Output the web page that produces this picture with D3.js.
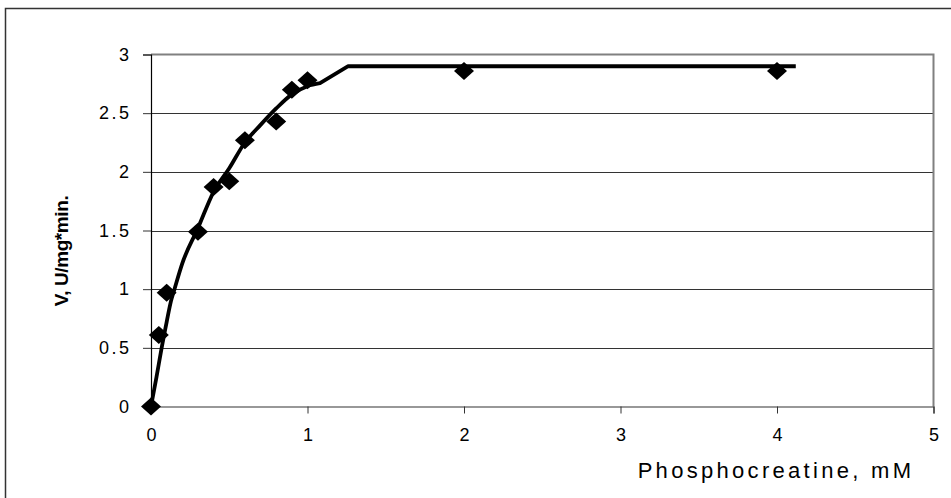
<!DOCTYPE html>
<html><head><meta charset="utf-8">
<script src="https://cdn.jsdelivr.net/npm/d3@7"></script>
<style>html,body{margin:0;padding:0;background:#fff;overflow:hidden}</style>
</head><body>
<svg id="chart" width="951" height="498"></svg>
<script>
// Measured points
const pointX = [0, 0.05, 0.1, 0.3, 0.4, 0.5, 0.6, 0.8, 0.9, 1.0, 2, 4];
const pointY = [0, 0.61, 0.97, 1.49, 1.87, 1.92, 2.27, 2.43, 2.70, 2.78, 2.86, 2.86];
// Fitted curve (smooth part, then straight plateau part)
const curveX = [0, 0.035, 0.068, 0.1, 0.128, 0.15, 0.2, 0.3, 0.4, 0.5, 0.6, 0.7, 0.8, 0.9, 1.0, 1.08];
const curveY = [0, 0.25, 0.5, 0.72, 0.9, 1.0, 1.22, 1.52, 1.83, 2.03, 2.25, 2.4, 2.54, 2.66, 2.73, 2.755];
const plateauX = [1.08, 1.26, 4.12];
const plateauY = [2.755, 2.9, 2.9];
const xTicks = [0, 1, 2, 3, 4, 5];
const yTicks = [0, 0.5, 1, 1.5, 2, 2.5, 3];
const xTitle = "Phosphocreatine, mM";
const yTitle = "V, U/mg*min.";

const svg = d3.select("#chart");
const FONT = "Liberation Sans, Arial, sans-serif";
const L = 151, R = 933.5, T = 54.5, B = 406.5;
const x = d3.scaleLinear().domain([0, 5]).range([L, R]);
const y = d3.scaleLinear().domain([0, 3]).range([B, T]);

// outer frame
svg.append("rect").attr("x", 5.5).attr("y", 8.5).attr("width", 960).attr("height", 500)
  .attr("fill", "none").attr("stroke", "#333").attr("stroke-width", 1.5);

// gridlines
svg.append("g").selectAll("line").data(yTicks.filter(d => d > 0 && d < 3)).join("line")
  .attr("x1", L).attr("x2", R).attr("y1", d => Math.round(y(d)) + 0.5).attr("y2", d => Math.round(y(d)) + 0.5)
  .attr("stroke", "#333").attr("stroke-width", 1);
// plot border (top & right) grey
svg.append("path").attr("d", `M${L},${T} H${R} V${B}`)
  .attr("fill", "none").attr("stroke", "#808080").attr("stroke-width", 2);

// axes
const xAxis = d3.axisBottom(x).tickValues(xTicks).tickSize(7).tickPadding(15).tickFormat(d3.format("d"));
const gx = svg.append("g").attr("transform", `translate(0,${B})`).call(xAxis);
gx.select(".domain").attr("stroke", "#333").attr("stroke-width", 1.2);
gx.selectAll(".tick line").attr("stroke", "#333");
gx.selectAll(".tick text").attr("font-family", FONT).attr("font-size", 18).attr("fill", "#000");

const yAxis = d3.axisLeft(y).tickValues(yTicks).tickSize(8).tickPadding(14).tickFormat(d => String(d));
const gy = svg.append("g").attr("transform", `translate(${L},0)`).call(yAxis);
gy.select(".domain").attr("stroke", "#000").attr("stroke-width", 1.2);
gy.selectAll(".tick line").attr("stroke", "#333");
gy.selectAll(".tick text").attr("font-family", FONT).attr("font-size", 18)
  .attr("letter-spacing", "2.5px").attr("dx", "2.5px").attr("fill", "#000");

// curve
const lineData = curveX.map((d, i) => [d, curveY[i]]);
const plateauData = plateauX.map((d, i) => [d, plateauY[i]]);
const smooth = d3.line().x(d => x(d[0])).y(d => y(d[1])).curve(d3.curveMonotoneX);
const straight = d3.line().x(d => x(d[0])).y(d => y(d[1]));
svg.append("path").attr("d", smooth(lineData) + "L" + straight(plateauData).slice(1))
  .attr("fill", "none").attr("stroke", "#000").attr("stroke-width", 3.8).attr("stroke-linejoin", "round");

// diamonds
const pts = pointX.map((d, i) => [d, pointY[i]]);
svg.append("g").selectAll("path").data(pts).join("path")
  .attr("transform", d => `translate(${x(d[0])},${y(d[1])})`)
  .attr("d", "M0,-9 L10,0 L0,9 L-10,0 Z").attr("fill", "#000");

// titles
svg.append("text").attr("x", 776).attr("y", 478).attr("text-anchor", "middle")
  .attr("font-family", FONT).attr("font-size", 22).attr("letter-spacing", "3.3px")
  .text(xTitle);
svg.append("text").attr("transform", "translate(68,251) rotate(-90)").attr("text-anchor", "middle")
  .attr("font-family", FONT).attr("font-size", 19).attr("font-weight", "bold")
  .attr("letter-spacing", "-0.4px")
  .text(yTitle);
</script>
</body></html>
